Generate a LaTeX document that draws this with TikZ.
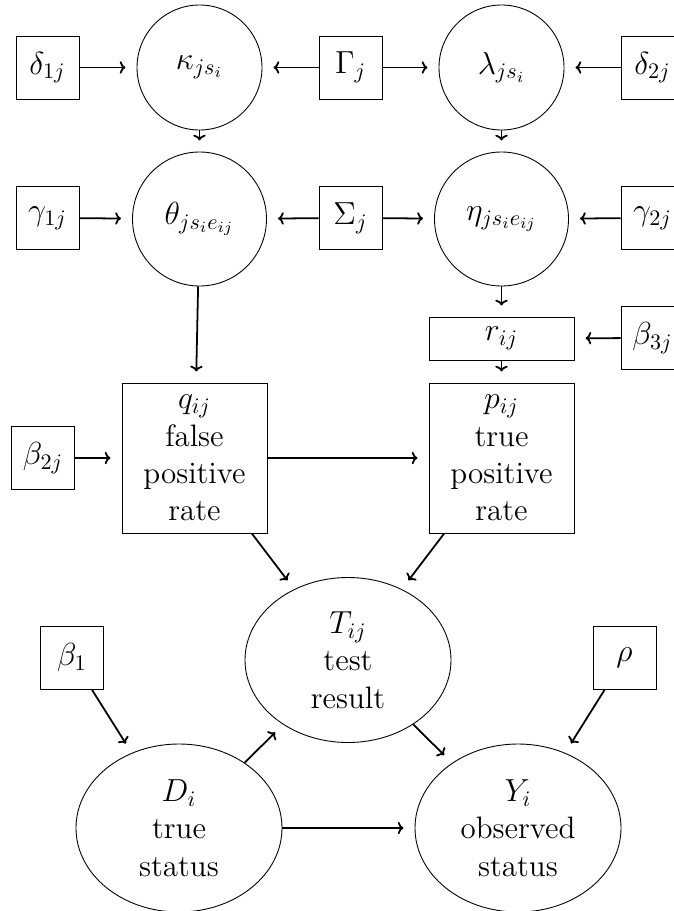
\documentclass[tikz,border=0pt]{standalone}
\usetikzlibrary{shapes.geometric,arrows.meta}
\def\pxu{0.4516pt}
\begin{document}
\begin{tikzpicture}[x=\pxu, y=-\pxu,
  font=\fontsize{14}{16.9}\selectfont,
  sq/.style={draw, line width=0.4pt, minimum size=63*\pxu, inner sep=0pt},
  circ/.style={draw, circle, minimum size=125*\pxu, inner sep=0pt},
  bigcirc/.style={draw, circle, minimum size=134*\pxu, inner sep=0pt},
  ratebox/.style={draw, minimum width=145*\pxu, minimum height=150*\pxu, align=center, inner sep=0pt},
  rbox/.style={draw, minimum width=145*\pxu, minimum height=43*\pxu, inner sep=0pt},
  ell/.style={draw, ellipse, minimum width=206*\pxu, minimum height=168*\pxu, align=center, inner sep=0pt},
  arr/.style={-{To[length=2.6pt,width=5.6pt]}, thick, shorten >=5pt}]
\useasboundingbox (0,0) rectangle (674,911);
\clip (0,0) rectangle (674,911);
% row 1
\node[sq] (d1) at (47.5,67.5) {$\delta_{1j}$};
\node[circ] (ka) at (199.5,67.5) {$\kappa_{js_i}$};
\node[sq] (Ga) at (350.5,67.5) {$\Gamma_j$};
\node[circ] (la) at (501.5,67.5) {$\lambda_{js_i}$};
\node[sq] (d2) at (652.5,67.5) {$\delta_{2j}$};
% row 2
\node[sq] (g1) at (47.5,218) {$\gamma_{1j}$};
\node[bigcirc] (th) at (199.5,219) {$\theta_{js_ie_{ij}}$};
\node[sq] (Si) at (350.5,218) {$\Sigma_j$};
\node[bigcirc] (et) at (501.5,219) {$\eta_{js_ie_{ij}}$};
\node[sq] (g2) at (652.5,218) {$\gamma_{2j}$};
% r row
\node[rbox] (r) at (501.5,338.5) {$r_{ij}$};
\node[sq] (b3) at (652.5,338) {$\beta_{3j}$};
% rates
\node[sq] (b2) at (43,458) {$\beta_{2j}$};
\node[ratebox] (q) at (194.5,458) {$q_{ij}$\\false\\positive\\rate};
\node[ratebox] (p) at (501.5,458) {$p_{ij}$\\true\\positive\\rate};
% bottom
\node[ell, minimum height=165*\pxu] (T) at (348,660) {$T_{ij}$\\test\\result};
\node[sq] (b1) at (72,658) {$\beta_1$};
\node[sq] (rho) at (624.5,658) {$\rho$};
\node[ell] (D) at (179,828) {$D_i$\\true\\status};
\node[ell] (Y) at (518,828) {$Y_i$\\observed\\status};
% connectors
\draw[arr] (d1) -- (ka);
\draw[arr] (Ga) -- (ka);
\draw[arr] (Ga) -- (la);
\draw[arr] (d2) -- (la);
\draw[arr] (ka) -- (th);
\draw[arr] (la) -- (et);
\draw[arr] (g1) -- (th);
\draw[arr] (Si) -- (th);
\draw[arr] (Si) -- (et);
\draw[arr] (g2) -- (et);
\draw[arr] (th) -- (q);
\draw[arr] (et) -- (r);
\draw[arr] (b3) -- (r);
\draw[arr] (r) -- (p);
\draw[arr] (b2) -- (q);
\draw[arr] (q) -- (p);
\draw[arr] (q) -- (T);
\draw[arr] (p) -- (T);
\draw[arr] (b1) -- (D);
\draw[arr] (rho) -- (Y);
\draw[arr] (D) -- (T);
\draw[arr] (T) -- (Y);
\draw[arr] (D) -- (Y);
\end{tikzpicture}
\end{document}
